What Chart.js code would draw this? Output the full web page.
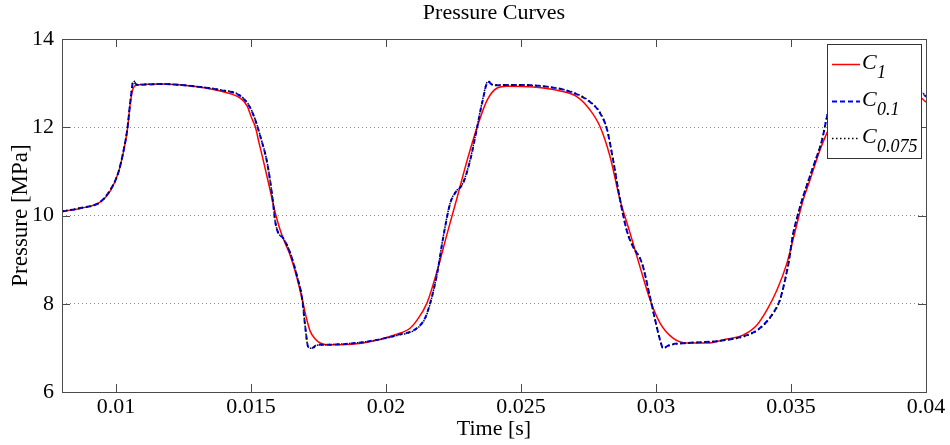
<!DOCTYPE html>
<html>
<head>
<meta charset="utf-8">
<title>Pressure Curves</title>
<script src="https://cdn.jsdelivr.net/npm/chart.js@4.4.1/dist/chart.umd.min.js"></script>
<style>
  html, body { margin: 0; padding: 0; background: #fff; }
  #wrap { width: 950px; height: 445px; }
</style>
</head>
<body>
<div id="wrap"><canvas id="chart" width="950" height="445"></canvas></div>
<script>
// time [s] and pressure [MPa]
const timeC1 = [
  0.00801, 0.00868, 0.00942, 0.00979, 0.01008, 0.01027, 0.01042, 0.01053, 0.01064, 0.01079,
  0.01164, 0.01286, 0.01386, 0.0146, 0.01486, 0.01501, 0.01516, 0.0153, 0.01545, 0.01564,
  0.01579, 0.01593, 0.01608, 0.01623, 0.01642, 0.0166, 0.01675, 0.0169, 0.01705, 0.01719,
  0.01738, 0.01756, 0.01782, 0.0183, 0.01916, 0.02041, 0.0209, 0.02115, 0.02152, 0.0219,
  0.02227, 0.02264, 0.02301, 0.02338, 0.02375, 0.02412, 0.02449, 0.02545, 0.02645, 0.02708,
  0.02756, 0.02793, 0.0283, 0.02867, 0.02904, 0.02941, 0.02978, 0.03015, 0.03063, 0.03115,
  0.03189, 0.03263, 0.03322, 0.03374, 0.03411, 0.03448, 0.03485, 0.03507, 0.03545, 0.0357,
  0.03607, 0.03633, 0.03663, 0.03693, 0.0373, 0.03774, 0.0383, 0.03904, 0.03959, 0.04
];
const pressureC1 = [
  10.09, 10.16, 10.31, 10.56, 10.96, 11.42, 11.94, 12.55, 12.89, 12.96,
  12.98, 12.93, 12.82, 12.66, 12.48, 12.23, 12.01, 11.64, 11.26, 10.76,
  10.35, 9.99, 9.67, 9.42, 9.15, 8.81, 8.47, 8.09, 7.68, 7.38,
  7.20, 7.11, 7.07, 7.07, 7.11, 7.31, 7.45, 7.63, 8.02, 8.76,
  9.60, 10.42, 11.26, 12.01, 12.62, 12.89, 12.93, 12.91, 12.82, 12.69,
  12.39, 12.01, 11.33, 10.35, 9.60, 8.83, 8.09, 7.56, 7.22, 7.11,
  7.11, 7.20, 7.29, 7.52, 7.86, 8.31, 8.92, 9.44, 10.35, 10.80,
  11.48, 11.87, 12.28, 12.62, 12.84, 12.93, 12.93, 12.89, 12.78, 12.57
];

const timeC01 = [
  0.00801, 0.00868, 0.00942, 0.00979, 0.01008, 0.01027, 0.01042, 0.01053, 0.01064, 0.01079,
  0.01164, 0.01286, 0.01386, 0.0146, 0.01497, 0.01516, 0.01534, 0.0156, 0.01579, 0.0159,
  0.01601, 0.01619, 0.01645, 0.01671, 0.0169, 0.01701, 0.01712, 0.01727, 0.01745, 0.01767,
  0.01916, 0.02041, 0.02115, 0.02145, 0.02164, 0.0219, 0.02212, 0.02238, 0.02256, 0.02286,
  0.02312, 0.02338, 0.02356, 0.02378, 0.02397, 0.0246, 0.02608, 0.02693, 0.02756, 0.02793,
  0.02819, 0.02841, 0.02867, 0.02893, 0.02915, 0.02948, 0.02978, 0.02997, 0.03015, 0.03026,
  0.03052, 0.03115, 0.03237, 0.03337, 0.03385, 0.03434, 0.03459, 0.03478, 0.03493, 0.03507,
  0.03522, 0.03541, 0.03582, 0.03615, 0.03633, 0.03656, 0.03674, 0.037, 0.03793, 0.03904,
  0.03959, 0.03985, 0.04
];
const pressureC01 = [
  10.09, 10.17, 10.31, 10.58, 10.96, 11.44, 11.96, 12.57, 13.03, 12.96,
  12.98, 12.93, 12.84, 12.71, 12.44, 12.16, 11.80, 11.19, 10.42, 9.85,
  9.60, 9.49, 9.15, 8.61, 8.09, 7.47, 7.02, 7.00, 7.07, 7.07,
  7.13, 7.29, 7.45, 7.68, 8.02, 8.70, 9.51, 10.28, 10.51, 10.74,
  11.26, 12.01, 12.55, 13.03, 12.95, 12.96, 12.91, 12.78, 12.57, 12.32,
  11.94, 11.26, 10.35, 9.63, 9.29, 8.92, 8.15, 7.63, 7.18, 7.00,
  7.07, 7.11, 7.16, 7.29, 7.45, 7.79, 8.09, 8.54, 8.99, 9.56,
  9.94, 10.35, 11.10, 11.71, 12.23, 12.73, 13.03, 12.96, 12.96, 12.91,
  12.84, 12.78, 12.69
];

const timeC0075 = [
  0.00801, 0.00868, 0.00942, 0.00979, 0.01008, 0.01027, 0.01042, 0.01053, 0.01064, 0.01079,
  0.01164, 0.01286, 0.01386, 0.0146, 0.01497, 0.01516, 0.01534, 0.0156, 0.01579, 0.0159,
  0.01601, 0.01619, 0.01645, 0.01671, 0.0169, 0.01701, 0.01712, 0.01727, 0.01745, 0.01767,
  0.01916, 0.02041, 0.02115, 0.02145, 0.02164, 0.0219, 0.02212, 0.02238, 0.02256, 0.02286,
  0.02312, 0.02338, 0.02356, 0.02378, 0.02397, 0.0246, 0.02608, 0.02693, 0.02756, 0.02793,
  0.02819, 0.02841, 0.02867, 0.02893, 0.02915, 0.02948, 0.02978, 0.02997, 0.03015, 0.03026,
  0.03052, 0.03115, 0.03237, 0.03337, 0.03385, 0.03434, 0.03459, 0.03478, 0.03493, 0.03507,
  0.03522, 0.03541, 0.03582, 0.03615, 0.03633, 0.03656, 0.03674, 0.037, 0.03793, 0.03904,
  0.03959, 0.03985, 0.04
];
const pressureC0075 = [
  10.10, 10.17, 10.30, 10.58, 10.97, 11.45, 11.97, 12.59, 13.05, 12.97,
  12.98, 12.93, 12.85, 12.72, 12.45, 12.17, 11.81, 11.20, 10.44, 9.86,
  9.61, 9.49, 9.16, 8.62, 8.10, 7.46, 7.01, 6.99, 7.06, 7.07,
  7.13, 7.28, 7.44, 7.67, 8.01, 8.71, 9.52, 10.29, 10.52, 10.75,
  11.27, 12.03, 12.57, 13.05, 12.96, 12.96, 12.91, 12.79, 12.58, 12.33,
  11.95, 11.27, 10.36, 9.64, 9.30, 8.92, 8.14, 7.62, 7.17, 6.99,
  7.06, 7.11, 7.16, 7.28, 7.44, 7.78, 8.08, 8.55, 9.00, 9.57,
  9.95, 10.36, 11.11, 11.72, 12.25, 12.75, 13.05, 12.97, 12.96, 12.91,
  12.85, 12.79, 12.70
];

const xTicks = [0.01, 0.015, 0.02, 0.025, 0.03, 0.035, 0.04];
const xTickLabels = ["0.01", "0.015", "0.02", "0.025", "0.03", "0.035", "0.04"];
const yTicks = [6, 8, 10, 12, 14];
const legendSymbols = ["C", "C", "C"];
const legendSubscripts = ["1", "0.1", "0.075"];

const SERIF = '"Liberation Serif", "Times New Roman", Times, serif';

function toPoints(xs, ys) {
  return xs.map((t, i) => ({ x: t, y: ys[i] }));
}

// box round the axes with inward ticks on all four sides
const axesBoxPlugin = {
  id: "axesBox",
  afterDatasetsDraw(c) {
    const { ctx, chartArea, scales } = c;
    const { left, top, right, bottom } = chartArea;
    const x = scales.x;
    const y = scales.y;
    ctx.save();
    ctx.strokeStyle = "#4a4a4a";
    ctx.lineWidth = 1;
    ctx.beginPath();
    xTicks.forEach((v) => {
      const px = Math.round(x.getPixelForValue(v)) + 0.5;
      ctx.moveTo(px, bottom);
      ctx.lineTo(px, bottom - 8);
      ctx.moveTo(px, top);
      ctx.lineTo(px, top + 8);
    });
    yTicks.forEach((v) => {
      const py = Math.round(y.getPixelForValue(v)) + 0.5;
      ctx.moveTo(left, py);
      ctx.lineTo(left + 8, py);
      ctx.moveTo(right, py);
      ctx.lineTo(right - 8, py);
    });
    ctx.stroke();
    ctx.strokeRect(Math.round(left) + 0.5, Math.round(top) + 0.5, Math.round(right - left), Math.round(bottom - top));
    ctx.restore();
  }
};

// legend with subscripts, top right inside the axes
const legendBoxPlugin = {
  id: "legendBox",
  afterDraw(c) {
    const { ctx, chartArea } = c;
    const boxW = 94;
    const boxH = 114;
    const boxLeft = Math.round(chartArea.right) - 5 - boxW;
    const boxTop = Math.round(chartArea.top) + 5;
    ctx.save();
    ctx.fillStyle = "#fff";
    ctx.fillRect(boxLeft, boxTop, boxW, boxH);
    ctx.strokeStyle = "#333";
    ctx.lineWidth = 1;
    ctx.strokeRect(boxLeft + 0.5, boxTop + 0.5, boxW, boxH);

    c.data.datasets.forEach((ds, i) => {
      const rowY = boxTop + 20 + i * 37;
      ctx.strokeStyle = ds.borderColor;
      ctx.lineWidth = ds.borderWidth;
      ctx.setLineDash(ds.borderDash || []);
      ctx.beginPath();
      ctx.moveTo(boxLeft + 5, rowY + 0.5);
      ctx.lineTo(boxLeft + 33, rowY + 0.5);
      ctx.stroke();
      ctx.setLineDash([]);

      ctx.fillStyle = "#000";
      ctx.textBaseline = "alphabetic";
      ctx.textAlign = "left";
      ctx.font = "italic 22px " + SERIF;
      ctx.fillText(legendSymbols[i], boxLeft + 35, rowY + 4.5);
      ctx.font = "italic 18px " + SERIF;
      ctx.fillText(legendSubscripts[i], boxLeft + 50, rowY + 14);
    });
    ctx.restore();
  }
};

new Chart(document.getElementById("chart"), {
  type: "line",
  data: {
    datasets: [
      {
        label: "C1",
        data: toPoints(timeC1, pressureC1),
        borderColor: "#ff0000",
        borderWidth: 1.5,
        order: 3
      },
      {
        label: "C0.1",
        data: toPoints(timeC01, pressureC01),
        borderColor: "#0000ff",
        borderWidth: 2,
        borderDash: [5, 3],
        order: 2
      },
      {
        label: "C0.075",
        data: toPoints(timeC0075, pressureC0075),
        borderColor: "#000000",
        borderWidth: 1.5,
        borderDash: [1.5, 2.5],
        order: 1
      }
    ]
  },
  options: {
    responsive: false,
    animation: false,
    events: [],
    elements: {
      point: { radius: 0 },
      line: { cubicInterpolationMode: "monotone", fill: false }
    },
    layout: {
      padding: { top: 0, right: 24, bottom: 0, left: 0 }
    },
    plugins: {
      legend: { display: false },
      tooltip: { enabled: false },
      title: {
        display: true,
        text: "Pressure Curves",
        fullSize: false,
        color: "#000",
        font: { family: SERIF, size: 22, weight: "normal", lineHeight: 1.2 },
        padding: { top: 0.5, bottom: 12.1 }
      }
    },
    scales: {
      x: {
        type: "linear",
        min: 0.008,
        max: 0.04,
        afterBuildTicks(scale) {
          scale.ticks = xTicks.map((v) => ({ value: v }));
        },
        afterFit(scale) {
          scale.height = 53;
        },
        ticks: {
          autoSkip: false,
          maxRotation: 0,
          padding: 2,
          color: "#000",
          font: { family: SERIF, size: 22 },
          callback: (v) => xTickLabels[xTicks.indexOf(v)]
        },
        grid: { display: false, drawTicks: false },
        border: { display: false },
        title: {
          display: true,
          text: "Time [s]",
          color: "#000",
          font: { family: SERIF, size: 22, lineHeight: 1.2 },
          padding: { top: 0, bottom: 2.6 }
        }
      },
      y: {
        type: "linear",
        min: 6,
        max: 14,
        afterBuildTicks(scale) {
          scale.ticks = yTicks.map((v) => ({ value: v }));
        },
        afterFit(scale) {
          scale.width = 62;
        },
        ticks: {
          padding: 8,
          color: "#000",
          font: { family: SERIF, size: 22 }
        },
        grid: {
          color: "#8c8c8c",
          lineWidth: 1,
          drawTicks: false
        },
        border: { display: false, dash: [1, 3] },
        title: {
          display: true,
          text: "Pressure [MPa]",
          color: "#000",
          font: { family: SERIF, size: 23, lineHeight: 1.2 },
          padding: { top: 7, bottom: 0 }
        }
      }
    }
  },
  plugins: [axesBoxPlugin, legendBoxPlugin]
});
</script>
</body>
</html>
